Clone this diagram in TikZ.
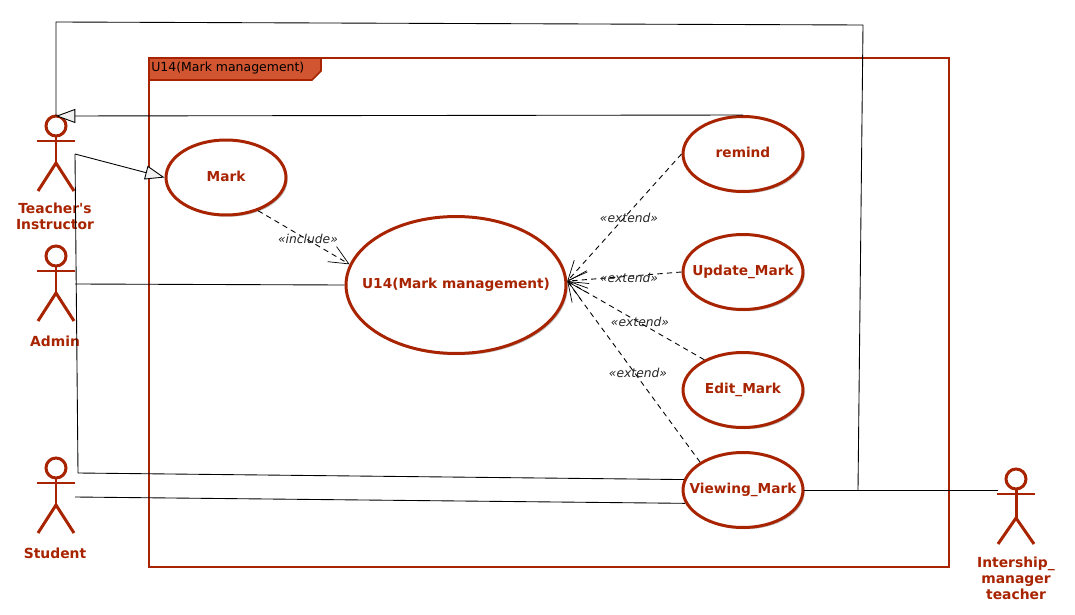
\documentclass[tikz,border=0pt]{standalone}
\usepackage{fontspec}
\setmainfont{DejaVu Sans}
\usetikzlibrary{arrows.meta, shapes.geometric, shadows}

\definecolor{umlred}{HTML}{A82400}
\definecolor{tabred}{HTML}{D05530}

\tikzset{
    usecase/.style={ellipse, draw=umlred, line width=1.7pt, fill=white, text=umlred, font=\bfseries\fontsize{7.8}{9}\selectfont, inner sep=0pt,
        minimum width=2.4cm, minimum height=1.5cm, drop shadow={shadow xshift=1pt, shadow yshift=-1pt, opacity=0.25, fill=black}},
    bigcase/.style={usecase, minimum width=4.4cm, minimum height=2.74cm},
    limb/.style={draw=umlred, line width=1.7pt},
    actorname/.style={text=umlred, align=center, font=\bfseries\fontsize{7.9}{9.1}\selectfont},
    assoc/.style={black, line width=0.5pt},
    gen/.style={assoc, -{Triangle[open, fill=black!6, length=11pt, width=8pt]}},
    dep/.style={assoc, dashed, dash pattern=on 3pt off 2.4pt, -{Straight Barb[length=11pt, width=10pt, line width=0.4pt]}},
    stereo/.style={font=\itshape\fontsize{7}{8}\selectfont, text=black!85, inner sep=0pt}
}

% stick figure: name, head x, head y, hip offset
\newcommand{\actorfig}[4]{
    \draw[limb] (#2, #3) circle (10);
    \draw[limb] (#2 - 19, #3 + 15) -- (#2 + 19, #3 + 15);
    \draw[limb] (#2, #3 + 10) -- (#2, #3 + #4);
    \draw[limb] (#2 - 18, #3 + 65) -- (#2, #3 + #4) -- (#2 + 18, #3 + 65);
}
% keeps a long name from widening its ellipse
\newcommand{\casename}[1]{\smash{\raisebox{-2.2pt}{\makebox[0pt]{#1}}}}

\begin{document}
\begin{tikzpicture}[x=0.02cm, y=-0.02cm, >=Stealth]

    \useasboundingbox (0, 0) rectangle (1075, 615);

    % Connector ends and bends
    \coordinate (teacherTop) at (56, 116);
    \coordinate (teacherArm) at (75, 154);
    \coordinate (teacherLow) at (78, 473);
    \coordinate (adminArm) at (75, 284);
    \coordinate (studentArm) at (75, 497);
    \coordinate (internArm) at (998, 490);
    \coordinate (loopLeft) at (56, 22);
    \coordinate (loopRight) at (863, 25);
    \coordinate (loopFoot) at (858, 490);

    % Package frame
    \draw[draw=umlred, line width=0.9pt] (149, 58) rectangle (949, 567);
    \draw[draw=umlred, fill=tabred, line width=0.9pt] (149, 58) -- (321, 58) -- (321, 71) -- (312, 80) -- (149, 80) -- cycle;
    \node[anchor=west, inner sep=0pt, font=\fontsize{7.1}{9}\selectfont] (frameTitle) at (151, 68) {U14(Mark management)};

    % Actors
    \actorfig{teacher}{56}{126}{37}
    \actorfig{admin}{56}{256}{37}
    \actorfig{student}{56}{468}{37}
    \actorfig{intern}{1016}{479}{39}
    \node[actorname] (teacherName) at (55, 216) {Teacher\textquotesingle s\\Instructor};
    \node[actorname] (adminName) at (55, 341) {Admin};
    \node[actorname] (studentName) at (55, 553) {Student};
    \node[actorname] (internName) at (1016, 578) {Intership\_\\manager\\teacher};

    % Use cases
    \node[usecase] (mark) at (226, 177.5) {\casename{Mark}};
    \node[bigcase] (manage) at (456, 285) {\casename{U14(Mark management)}};
    \node[usecase] (remind) at (743, 154) {\casename{remind}};
    \node[usecase] (update) at (743, 272) {\casename{Update\_Mark}};
    \node[usecase] (edit) at (743, 390) {\casename{Edit\_Mark}};
    \node[usecase] (view) at (743, 490) {\casename{Viewing\_Mark}};

    % Associations
    \draw[assoc] (adminArm) -- (manage.west);
    \draw[assoc] (studentArm) -- (view.193);
    \draw[assoc] (view.east) -- (internArm);
    \draw[assoc] (teacherTop) -- (loopLeft) -- (loopRight) -- (loopFoot);
    \draw[assoc] (view.170) -- (teacherLow) -- (teacherArm);

    % Generalizations
    \draw[gen] (remind.north) -- (teacherTop);
    \draw[gen] (teacherArm) -- (mark.west);

    % Include and extend
    \draw[dep] (mark.-46) -- (manage.169);
    \draw[dep] (remind.west) -- (manage.2);
    \draw[dep] (update.west) -- (manage.2);
    \draw[dep] (edit.142) -- (manage.2);
    \draw[dep] (view.147) -- (manage.2);
    \node[stereo] (includeTag) at (308, 239) {«include»};
    \node[stereo] (extendOne) at (629, 218) {«extend»};
    \node[stereo] (extendTwo) at (629, 278) {«extend»};
    \node[stereo] (extendThree) at (640, 322) {«extend»};
    \node[stereo] (extendFour) at (638, 373) {«extend»};

\end{tikzpicture}
\end{document}
